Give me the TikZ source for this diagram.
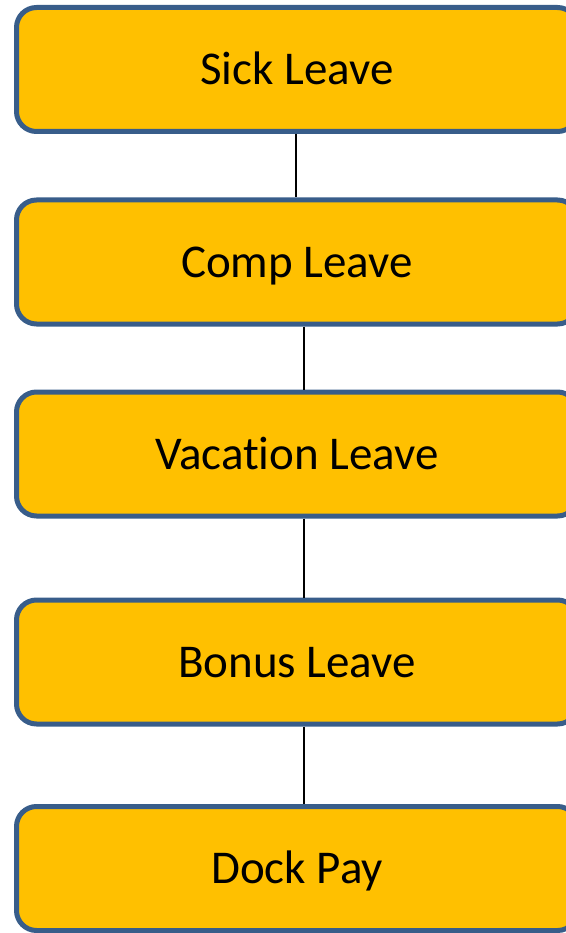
\documentclass[tikz,border=0pt]{standalone}
\usepackage{fontspec}
\setmainfont{Carlito}[Ligatures={NoCommon,NoRequired,NoContextual}]
\definecolor{leavefill}{HTML}{FFC000}
\definecolor{leaveedge}{HTML}{385D8A}

\begin{document}
\begin{tikzpicture}[x=1pt, y=-1pt,
		leavebox/.style={draw=leaveedge, fill=leavefill, line width=5pt, rounded corners=20pt,
			minimum width=561pt, minimum height=124pt, inner sep=0pt,
			text height=30pt, text depth=0pt,
			font=\fontsize{47}{56}\selectfont},
		link/.style={line width=2pt, black}]
		\useasboundingbox (0,0) rectangle (565,933);

		% draw the leave types
		\node [leavebox] (sick) at (297, 69.5) {Sick Leave};
		\node [leavebox] (comp) at (297, 262) {Comp Leave};
		\node [leavebox] (vacation) at (297, 454) {Vacat\kern0pt ion Leave};
		\node [leavebox] (bonus) at (297, 662) {Bonus Leave};
		\node [leavebox] (dock) at (297, 868.5) {Dock Pay};

		% draw links between the boxes
		\draw [link] ([xshift=-1pt]sick.south) -- ([xshift=-1pt]comp.north);
		\draw [link] ([xshift=7pt]comp.south) -- ([xshift=7pt]vacation.north);
		\draw [link] ([xshift=7pt]vacation.south) -- ([xshift=7pt]bonus.north);
		\draw [link] ([xshift=7pt]bonus.south) -- ([xshift=7pt]dock.north);
\end{tikzpicture}
\end{document}
